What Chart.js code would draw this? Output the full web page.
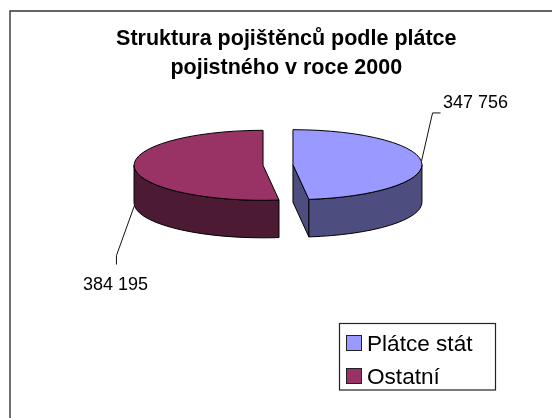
<!DOCTYPE html>
<html>
<head>
<meta charset="utf-8">
<style>html,body{margin:0;padding:0;background:#fff}#w{width:552px;height:418px}canvas{display:block}</style>
<script src="https://cdn.jsdelivr.net/npm/chart.js@4"></script>
</head>
<body>
<div id="w"><canvas id="c" width="552" height="418"></canvas></div>
<script>
const categories = ['Plátce stát', 'Ostatní'];
const values = [347756, 384195];
const valueLabels = ['347 756', '384 195'];
const titleLines = ['Struktura pojištěnců podle plátce', 'pojistného v roce 2000'];
const topColors = ['#9999FF', '#993366'];
const sideColors = ['#4D4D80', '#4D1A33'];

const FONT = '"Liberation Sans", Arial, sans-serif';
const RADIUS = 129, RY = 35, DEPTH = 37.5, EXPLODE = 15, WARP = 0.79;

function warp(a) {
  let w = Math.atan2(Math.sin(a), Math.cos(a) * WARP);
  while (w < a - Math.PI) w += 2 * Math.PI;
  return w;
}

const pie3d = {
  id: 'pie3d',
  afterLayout(chart) {
    const t = chart.titleBlock;
    const shift = 286.3 - (t.left + t.right) / 2;
    t.left += shift; t.right += shift;
  },
  beforeDraw(chart) {
    const c = chart.ctx;
    c.save();
    c.fillStyle = '#fff';
    c.fillRect(0, 0, 552, 418);
    c.strokeStyle = '#333';
    c.lineWidth = 1.4;
    c.beginPath();
    c.moveTo(10, 418); c.lineTo(10, 11); c.lineTo(552, 11);
    c.stroke();
    c.restore();
  },
  beforeDatasetDraw(chart, args) {
    const c = chart.ctx;
    const meta = args.meta;
    meta.data.forEach((arc, i) => {
      const a0 = arc.startAngle, a1 = arc.endAngle;
      const s = warp(a0), e = warp(a1);
      const mid = (a0 + a1) / 2;
      const cx = arc.x + Math.cos(mid) * EXPLODE;
      const cy = arc.y + Math.sin(mid) * EXPLODE * RY / arc.outerRadius;
      const rx = arc.outerRadius;

      c.save();
      c.lineWidth = 1;
      c.strokeStyle = '#000';
      c.lineJoin = 'round';
      c.fillStyle = sideColors[i];

      // cut face
      [[s, -1], [e, 1]].forEach(([ang, side]) => {
        const rimX = cx + rx * Math.cos(ang), rimY = cy + RY * Math.sin(ang);
        if (Math.sin(ang) > 0 && Math.cos(ang) * side > 0) {
          c.beginPath();
          c.moveTo(cx, cy); c.lineTo(rimX, rimY);
          c.lineTo(rimX, rimY + DEPTH); c.lineTo(cx, cy + DEPTH);
          c.closePath();
          c.fill(); c.stroke();
        }
      });

      // outer wall: the front half of the rim
      const w0 = Math.max(s, 0), w1 = Math.min(e, Math.PI);
      if (w1 > w0) {
        c.beginPath();
        c.ellipse(cx, cy, rx, RY, 0, w0, w1);
        c.lineTo(cx + rx * Math.cos(w1), cy + RY * Math.sin(w1) + DEPTH);
        c.ellipse(cx, cy + DEPTH, rx, RY, 0, w1, w0, true);
        c.closePath();
        c.fill(); c.stroke();
      }

      // top face through the library's own arc element
      const keepS = arc.startAngle, keepE = arc.endAngle;
      arc.startAngle = s; arc.endAngle = e;
      c.save();
      c.translate(cx, cy);
      c.scale(1, RY / rx);
      c.translate(-arc.x, -arc.y);
      arc.draw(c);
      c.restore();
      arc.startAngle = keepS; arc.endAngle = keepE;

      c.beginPath();
      c.moveTo(cx, cy);
      c.ellipse(cx, cy, rx, RY, 0, s, e);
      c.closePath();
      c.stroke();

      // leader line and value label
      const lx = cx + rx * Math.cos(mid);
      const ly = cy + RY * Math.sin(mid);
      c.lineWidth = 1;
      c.strokeStyle = '#111';
      c.beginPath();
      c.fillStyle = '#000';
      c.font = '18px ' + FONT;
      c.textBaseline = 'alphabetic';
      c.textAlign = 'left';
      if (Math.cos(mid) > 0) {
        c.moveTo(lx, ly - 1);
        c.lineTo(lx + 11, ly - 49);
        c.lineTo(lx + 19, ly - 49);
        c.stroke();
        c.fillText(valueLabels[i], 443, 107.5);
      } else {
        c.moveTo(lx, ly + DEPTH);
        c.lineTo(lx - 18, ly + DEPTH + 50);
        c.lineTo(lx - 18, ly + DEPTH + 59);
        c.stroke();
        c.fillText(valueLabels[i], 83, 289.5);
      }
      c.restore();
    });
    return false;
  },
  afterDraw(chart) {
    const c = chart.ctx;
    c.save();
    c.strokeStyle = '#222';
    c.lineWidth = 1.2;
    c.strokeRect(339.5, 323.5, 156, 66.5);
    c.font = '22.6px ' + FONT;
    c.textBaseline = 'alphabetic';
    c.textAlign = 'left';
    categories.forEach((name, i) => {
      const y = 335 + i * 33;
      c.fillStyle = topColors[i];
      c.fillRect(346.5, y + 0.5, 15, 15);
      c.strokeStyle = '#222';
      c.lineWidth = 1;
      c.strokeRect(346.5, y + 0.5, 15, 15);
      c.fillStyle = '#000';
      c.fillText(name, 367, y + 15.7);
    });
    c.restore();
  }
};

new Chart(document.getElementById('c'), {
  type: 'pie',
  data: {
    labels: categories,
    datasets: [{ data: values, backgroundColor: topColors, borderWidth: 0, radius: RADIUS }]
  },
  options: {
    responsive: false,
    animation: false,
    layout: { padding: { left: 6, right: 2, top: 25, bottom: 170.4 } },
    plugins: {
      legend: { display: false },
      tooltip: { enabled: false },
      title: {
        display: true,
        text: titleLines,
        color: '#000',
        padding: 0,
        font: { family: FONT, size: 21.5, weight: 'bold', lineHeight: 1.335 }
      }
    }
  },
  plugins: [pie3d]
});
</script>
</body>
</html>
